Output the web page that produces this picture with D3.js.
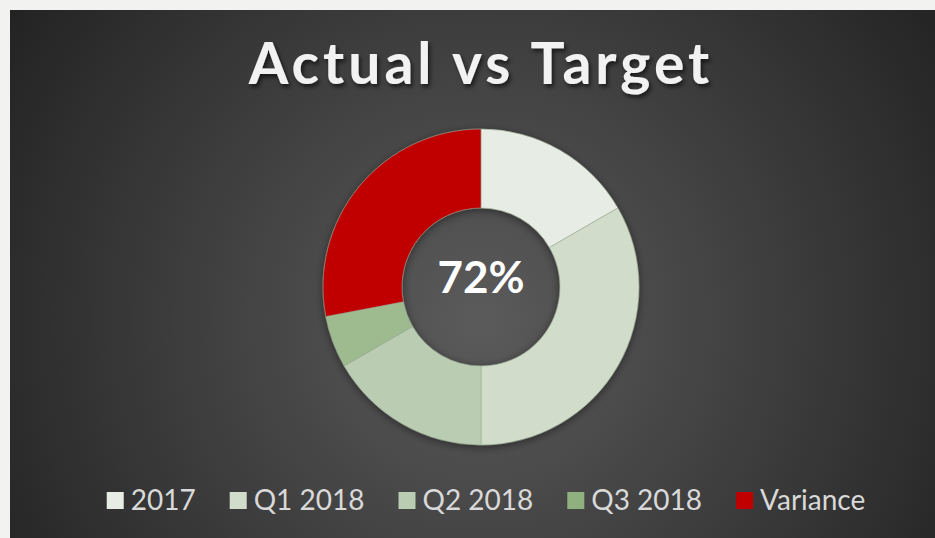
<!DOCTYPE html>
<html>
<head>
    <meta charset="utf-8">
    <title>Actual vs Target</title>
    <script src="https://d3js.org/d3.v7.min.js"></script>
    <style>
        body {
            margin: 0;
            background-color: #f2f2f0;
            overflow: hidden;
        }
    </style>
</head>
<body>
    <svg id="chart"></svg>

    <script type="text/javascript">
        const categories = ["2017", "Q1 2018", "Q2 2018", "Q3 2018", "Variance"]
        const values = [100, 200, 100, 32, 168]
        const sliceColors = ["#e7ede4", "#d1ddca", "#bacdb2", "url(#q3grad)", "#c00000"]
        const legendColors = ["#e7ede4", "#d1ddca", "#bacdb2", "#8fb07f", "#c00000"]

        const width = 935, height = 538
        const cx = 481, cy = 287
        const outerR = 158, innerR = 79

        let svg = d3.select('#chart').attr('width', width).attr('height', height)
        let defs = svg.append('defs')

        // background radial gradient
        let bg = defs.append('radialGradient').attr('id', 'bggrad')
            .attr('gradientUnits', 'userSpaceOnUse')
            .attr('cx', 480).attr('cy', 320).attr('r', 560)
        bg.append('stop').attr('offset', '0%').attr('stop-color', '#5b5b5b')
        bg.append('stop').attr('offset', '100%').attr('stop-color', '#232323')

        let q3 = defs.append('linearGradient').attr('id', 'q3grad')
            .attr('gradientUnits', 'userSpaceOnUse')
            .attr('x1', 0).attr('y1', cy + 20).attr('x2', 0).attr('y2', cy + 80)
        q3.append('stop').attr('offset', '0%').attr('stop-color', '#9dbb8f')
        q3.append('stop').attr('offset', '100%').attr('stop-color', '#799d69')

        let shadow = defs.append('filter').attr('id', 'shadow')
            .attr('x', '-20%').attr('y', '-20%').attr('width', '140%').attr('height', '160%')
        shadow.append('feDropShadow').attr('dx', 2).attr('dy', 3).attr('stdDeviation', 2)
            .attr('flood-color', '#000').attr('flood-opacity', 0.6)

        let ringShadow = defs.append('filter').attr('id', 'ringshadow')
            .attr('x', '-20%').attr('y', '-20%').attr('width', '140%').attr('height', '140%')
        ringShadow.append('feDropShadow').attr('dx', 0).attr('dy', 2).attr('stdDeviation', 4)
            .attr('flood-color', '#000').attr('flood-opacity', 0.45)

        svg.append('rect')
            .attr('x', 10).attr('y', 10)
            .attr('width', width - 10).attr('height', height - 10)
            .attr('fill', 'url(#bggrad)')

        // title
        svg.append('text')
            .text('Actual vs Target')
            .attr('x', 481).attr('y', 84)
            .attr('text-anchor', 'middle')
            .attr('fill', '#f2f2f2')
            .style('font-family', 'Lato, sans-serif')
            .style('font-weight', 700)
            .style('font-size', '57px')
            .style('letter-spacing', '4px')
            .attr('filter', 'url(#shadow)')

        // donut
        let pie = d3.pie().sort(null).value(d => d)
        let arc = d3.arc().innerRadius(innerR).outerRadius(outerR)

        let ring = svg.append('g')
            .attr('transform', `translate(${cx},${cy})`)
            .attr('filter', 'url(#ringshadow)')

        ring.selectAll('path')
            .data(pie(values))
            .enter()
            .append('path')
            .attr('d', arc)
            .attr('fill', (d, i) => sliceColors[i])
            .attr('stroke', '#9fae98')
            .attr('stroke-width', 0.6)

        let actual = d3.sum(values.slice(0, 4)) / d3.sum(values)
        svg.append('text')
            .text(d3.format('.0%')(actual))
            .attr('x', cx).attr('y', 293)
            .attr('text-anchor', 'middle')
            .attr('fill', '#ffffff')
            .style('font-family', 'Lato, sans-serif')
            .style('font-weight', 700)
            .style('font-size', '44px')

        // legend
        let legend = svg.append('g')
        let items = legend.selectAll('g').data(categories).enter().append('g')
        items.append('rect')
            .attr('width', 17).attr('height', 17)
            .attr('y', 492)
            .attr('fill', (d, i) => legendColors[i])
        items.append('text')
            .text(d => d)
            .attr('x', 24).attr('y', 510)
            .attr('fill', '#d9d9d9')
            .style('font-family', 'Lato, sans-serif')
            .style('font-size', '28px')

        let xPos = 0, offsets = []
        items.each(function () {
            offsets.push(xPos)
            let w = d3.select(this).select('text').node().getComputedTextLength()
            xPos += 24 + w + 34
        })
        let total = xPos - 34
        let start = 486 - total / 2
        items.attr('transform', (d, i) => `translate(${start + offsets[i]},0)`)
    </script>
</body>
</html>
